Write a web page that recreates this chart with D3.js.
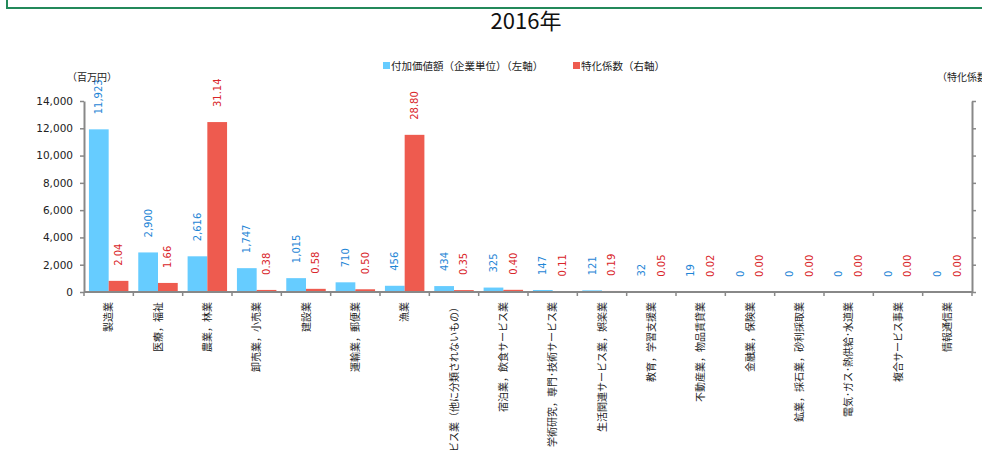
<!DOCTYPE html>
<html>
<head>
<meta charset="utf-8">
<script src="https://cdn.jsdelivr.net/npm/d3@7"></script>
<style>
  body { margin: 0; background: #fff; }
  svg { display: block; }
  .num { font-family: "DejaVu Sans", Verdana, sans-serif; }
  .jp { font-family: "Noto Sans CJK JP", sans-serif; }
</style>
</head>
<body>
<svg id="chart" width="982" height="453"></svg>
<script>
// data
const categories = ["製造業", "医療，福祉", "農業，林業", "卸売業，小売業", "建設業", "運輸業，郵便業", "漁業",
  "サービス業（他に分類されないもの）", "宿泊業，飲食サービス業", "学術研究，専門･技術サービス業",
  "生活関連サービス業，娯楽業", "教育，学習支援業", "不動産業，物品賃貸業", "金融業，保険業",
  "鉱業，採石業，砂利採取業", "電気･ガス･熱供給･水道業", "複合サービス事業", "情報通信業"];
const addedValue = [11923, 2900, 2616, 1747, 1015, 710, 456, 434, 325, 147, 121, 32, 19, 0, 0, 0, 0, 0];
const specCoef = [2.04, 1.66, 31.14, 0.38, 0.58, 0.50, 28.80, 0.35, 0.40, 0.11, 0.19, 0.05, 0.02, 0.00, 0.00, 0.00, 0.00, 0.00];
const leftTicks = [0, 2000, 4000, 6000, 8000, 10000, 12000, 14000];
const rightTicks = [0, 5, 10, 15, 20, 25, 30, 35];
const seriesNames = ["付加価値額（企業単位）（左軸）", "特化係数（右軸）"];

const blue = "#66ccff", red = "#ee5b4f";
const blueText = "#1f86d6", redText = "#d9252a";
const axisCol = "#888";

let svg = d3.select("#chart");

let plotLeft = 84, plotRight = 972, plotTop = 101, plotBottom = 292;

// frame line at the top
svg.append("path")
   .attr("d", "M7,0 V8 H982")
   .attr("fill", "none")
   .attr("stroke", "#23895a")
   .attr("stroke-width", 2);

// title
svg.append("text")
   .attr("class", "jp")
   .attr("x", 526).attr("y", 29)
   .attr("text-anchor", "middle")
   .attr("font-size", 22)
   .attr("fill", "#111")
   .text("2016年");

let x = d3.scaleBand().domain(categories).range([plotLeft, plotRight]);
let xs = d3.scaleBand().domain([0, 1]).range([0, x.bandwidth()]).paddingOuter(0.25).paddingInner(0);
let yL = d3.scaleLinear().domain([0, 14000]).range([plotBottom, plotTop]);
let yR = d3.scaleLinear().domain([0, 35]).range([plotBottom, plotTop]);

// bars
let g = svg.append("g");
g.selectAll("rect.b")
 .data(addedValue)
 .enter().append("rect")
 .attr("x", (d, i) => x(categories[i]) + xs(0))
 .attr("y", d => yL(d))
 .attr("width", xs.bandwidth())
 .attr("height", d => plotBottom - yL(d))
 .attr("fill", blue);

g.selectAll("rect.r")
 .data(specCoef)
 .enter().append("rect")
 .attr("x", (d, i) => x(categories[i]) + xs(1))
 .attr("y", d => yR(d))
 .attr("width", xs.bandwidth())
 .attr("height", d => plotBottom - yR(d))
 .attr("fill", red);

// value labels
let fmt = d3.format(",");
g.selectAll("text.bl")
 .data(addedValue)
 .enter().append("text")
 .attr("class", "num")
 .attr("transform", (d, i) => "translate(" + (x(categories[i]) + xs(0) + xs.bandwidth() / 2) + "," + (yL(d) - 15) + ") rotate(-90)")
 .attr("dy", "0.35em")
 .attr("font-size", 10)
 .attr("fill", blueText)
 .text(d => fmt(d));

g.selectAll("text.rl")
 .data(specCoef)
 .enter().append("text")
 .attr("class", "num")
 .attr("transform", (d, i) => "translate(" + (x(categories[i]) + xs(1) + xs.bandwidth() / 2) + "," + (yR(d) - 15) + ") rotate(-90)")
 .attr("dy", "0.35em")
 .attr("font-size", 10)
 .attr("fill", redText)
 .text(d => d.toFixed(2));

// left axis
let ax = svg.append("g")
            .attr("transform", "translate(" + plotLeft + ",0)")
            .call(d3.axisLeft(yL).tickValues(leftTicks).tickFormat(fmt).tickSize(4).tickSizeOuter(0).tickPadding(7));
ax.selectAll("text").attr("class", "num").attr("font-size", 10.5).attr("fill", "#222");

// right axis, its labels lie outside the picture
let axr = svg.append("g")
             .attr("transform", "translate(" + plotRight + ",0)")
             .call(d3.axisRight(yR).tickValues(rightTicks).tickFormat("").tickSize(4).tickSizeOuter(0));

// bottom axis
let bounds = categories.map(c => x(c)).concat([plotRight]);
svg.append("line")
   .attr("x1", plotLeft).attr("x2", plotRight)
   .attr("y1", plotBottom).attr("y2", plotBottom)
   .attr("stroke", axisCol).attr("stroke-width", 2);
svg.selectAll("line.tk")
   .data(bounds)
   .enter().append("line")
   .attr("x1", d => d).attr("x2", d => d)
   .attr("y1", plotBottom).attr("y2", plotBottom + 4)
   .attr("stroke", axisCol).attr("stroke-width", 1.5);

svg.selectAll(".domain").attr("stroke", axisCol).attr("stroke-width", 2);
svg.selectAll(".tick line").attr("stroke", axisCol).attr("stroke-width", 1.5);

// category labels
svg.selectAll("text.cat")
   .data(categories)
   .enter().append("text")
   .attr("class", "jp")
   .attr("transform", d => "translate(" + (x(d) + x.bandwidth() / 2) + "," + (plotBottom + 10) + ") rotate(-90)")
   .attr("text-anchor", "end")
   .attr("dy", "0.35em")
   .attr("font-size", 10)
   .attr("fill", "#222")
   .text(d => d);

// axis units
svg.append("text")
   .attr("class", "jp")
   .attr("x", 67).attr("y", 81)
   .attr("font-size", 10)
   .attr("fill", "#222")
   .text("（百万円）");
svg.append("text")
   .attr("class", "jp")
   .attr("x", 937).attr("y", 81)
   .attr("font-size", 10)
   .attr("fill", "#222")
   .text("（特化係数）");

// legend
let legend = svg.append("g").attr("class", "jp");
let lx = [383, 573];
legend.selectAll("rect")
      .data(seriesNames)
      .enter().append("rect")
      .attr("x", (d, i) => lx[i]).attr("y", 62)
      .attr("width", 7).attr("height", 7)
      .attr("fill", (d, i) => i == 0 ? blue : red);
legend.selectAll("text")
      .data(seriesNames)
      .enter().append("text")
      .attr("x", (d, i) => lx[i] + 8).attr("y", 69.5)
      .attr("font-size", 10.5)
      .attr("fill", "#222")
      .text(d => d);
</script>
</body>
</html>
